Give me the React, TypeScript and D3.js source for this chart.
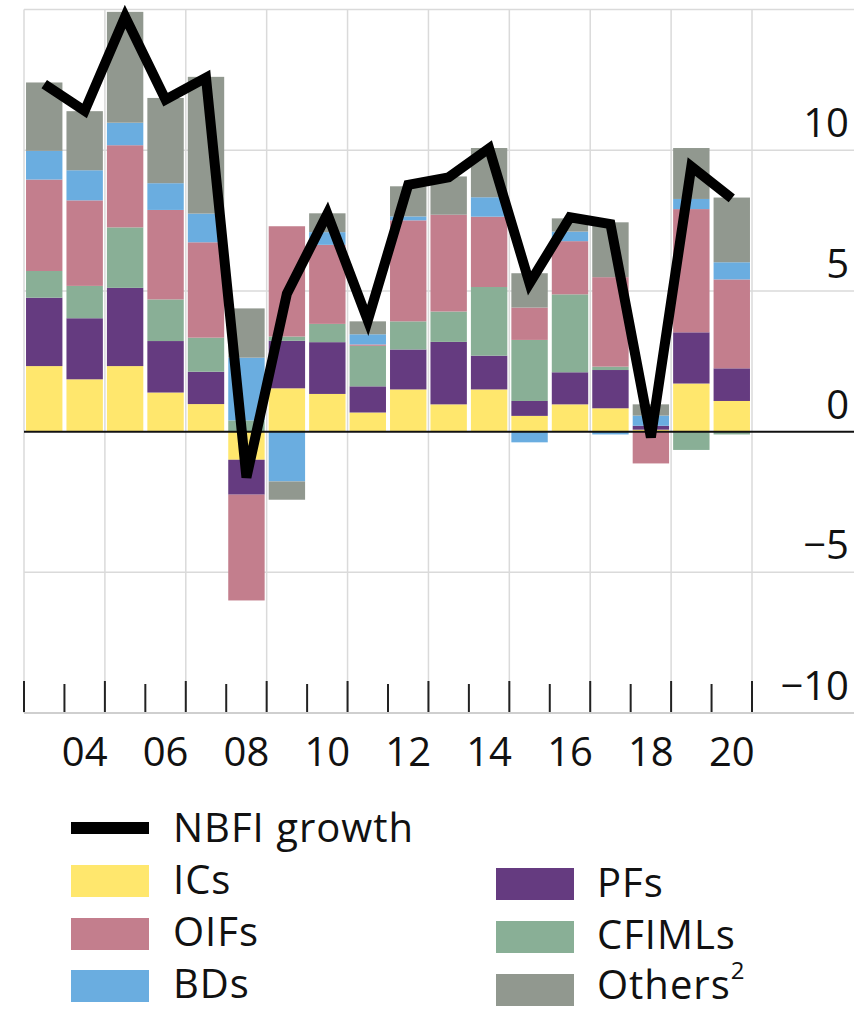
import React, { useEffect, useRef } from 'react';
import * as d3 from 'd3';

const years = ['2003', '2004', '2005', '2006', '2007', '2008', '2009', '2010', '2011', '2012', '2013', '2014', '2015', '2016', '2017', '2018', '2019', '2020'];

// contributions by sector, percentage points
const ICs = [2.33, 1.86, 2.33, 1.39, 0.98, -1.0, 1.54, 1.34, 0.68, 1.5, 0.97, 1.5, 0.56, 0.97, 0.83, 0.07, 1.71, 1.09];
const PFs = [2.43, 2.17, 2.78, 1.83, 1.15, -1.24, 1.69, 1.84, 0.93, 1.42, 2.22, 1.2, 0.53, 1.14, 1.36, 0.14, 1.82, 1.16];
const CFIMLs = [0.95, 1.15, 2.15, 1.48, 1.21, 0.4, 0.15, 0.65, 1.44, 1.0, 1.08, 2.44, 2.17, 2.77, 0.12, 0, -0.65, -0.1];
const OIFs = [3.25, 3.04, 2.92, 3.18, 3.39, -3.76, 3.92, 2.81, 0.05, 3.59, 3.44, 2.5, 1.15, 1.89, 3.18, -1.13, 4.38, 3.16];
const BDs = [1.02, 1.07, 0.8, 0.95, 1.02, 2.23, -1.77, 0.45, 0.36, 0.14, 0, 0.69, -0.38, 0.34, -0.1, 0.36, 0.36, 0.61];
const Others = [2.43, 2.1, 3.94, 3.03, 4.86, 1.75, -0.65, 0.67, 0.46, 1.07, 1.36, 1.75, 1.22, 0.47, 1.95, 0.4, 1.81, 2.3];
const NBFI = [12.35, 11.4, 14.75, 11.8, 12.58, -1.63, 4.9, 7.74, 3.95, 8.77, 9.04, 10.07, 5.27, 7.62, 7.38, -0.2, 9.42, 8.29];

const yTicks = [-10, -5, 0, 5, 10];
const xLabelYears = ['2004', '2006', '2008', '2010', '2012', '2014', '2016', '2018', '2020'];

const seriesKeys = ['ICs', 'PFs', 'CFIMLs', 'OIFs', 'BDs', 'Others'];
const seriesColors: Record<string, string> = {
    ICs: '#ffe76d',
    PFs: '#653b80',
    CFIMLs: '#89af96',
    OIFs: '#c37e8d',
    BDs: '#6aade0',
    Others: '#91988f',
};

const FONT = '"Open Sans", "Noto Sans", sans-serif';

const App = () => {
    const svgRef = useRef<SVGSVGElement>(null);

    useEffect(() => {
        const svg = d3.select(svgRef.current);
        svg.selectAll('*').remove();

        const width = 854;
        const left = 24, right = 752, top = 9.6, bottom = 713;

        const x = d3.scaleBand<string>()
            .domain(years)
            .range([left, right])
            .paddingInner(0.1)
            .paddingOuter(0.05);
        const step = x.step();

        const y = d3.scaleLinear().domain([-10, 15]).range([bottom, top]);

        // table for stacking
        const cols: Record<string, number[]> = { ICs, PFs, CFIMLs, OIFs, BDs, Others };
        const table = years.map((yr, i) => {
            const row: any = { year: yr };
            seriesKeys.forEach(k => { row[k] = cols[k][i]; });
            return row;
        });
        const stacked = d3.stack<any>()
            .keys(seriesKeys)
            .offset(d3.stackOffsetDiverging)(table);

        // grid
        const grid = svg.append('g');
        [15, 10, 5, -5].forEach(v => {
            grid.append('line')
                .attr('x1', left).attr('x2', width)
                .attr('y1', y(v)).attr('y2', y(v))
                .attr('stroke', '#dadada').attr('stroke-width', 1.5);
        });
        d3.range(0, years.length + 1, 2).forEach(k => {
            const gx = left + k * step;
            grid.append('line')
                .attr('x1', gx).attr('x2', gx)
                .attr('y1', top).attr('y2', bottom)
                .attr('stroke', '#dadada').attr('stroke-width', 1.5);
        });
        grid.append('line')
            .attr('x1', left).attr('x2', width)
            .attr('y1', bottom).attr('y2', bottom)
            .attr('stroke', '#cfcfcf').attr('stroke-width', 2);

        // bars
        svg.append('g')
            .selectAll('g')
            .data(stacked)
            .join('g')
            .attr('fill', d => seriesColors[d.key])
            .selectAll('rect')
            .data(d => d)
            .join('rect')
            .attr('x', d => x(d.data.year)!)
            .attr('width', x.bandwidth())
            .attr('y', d => y(Math.max(d[0], d[1])))
            .attr('height', d => Math.abs(y(d[0]) - y(d[1])));

        // zero line
        svg.append('line')
            .attr('x1', left).attr('x2', width)
            .attr('y1', y(0)).attr('y2', y(0))
            .attr('stroke', '#111').attr('stroke-width', 2);

        // bottom ticks
        d3.range(0, years.length + 1).forEach(k => {
            const tx = left + k * step;
            svg.append('line')
                .attr('x1', tx).attr('x2', tx)
                .attr('y1', k % 2 === 0 ? 681 : 684).attr('y2', bottom - 1)
                .attr('stroke', '#222').attr('stroke-width', 2);
        });

        // y labels
        svg.append('g')
            .selectAll('text')
            .data(yTicks)
            .join('text')
            .attr('x', 849)
            .attr('y', d => y(d) - 13)
            .attr('text-anchor', 'end')
            .attr('font-family', FONT)
            .attr('font-size', 40)
            .attr('fill', '#111')
            .text(d => (d < 0 ? '\u2212' + Math.abs(d) : String(d)));

        // x labels
        svg.append('g')
            .selectAll('text')
            .data(xLabelYears)
            .join('text')
            .attr('x', d => x(d)! + x.bandwidth() / 2)
            .attr('y', 766)
            .attr('text-anchor', 'middle')
            .attr('font-family', FONT)
            .attr('font-size', 40)
            .attr('fill', '#111')
            .text(d => d.slice(2));

        // NBFI growth line
        const line = d3.line<number>()
            .x((d, i) => x(years[i])! + x.bandwidth() / 2)
            .y(d => y(d));
        svg.append('path')
            .datum(NBFI)
            .attr('d', line)
            .attr('fill', 'none')
            .attr('stroke', '#000')
            .attr('stroke-width', 10);

        // legend
        const lg = svg.append('g')
            .attr('font-family', FONT)
            .attr('font-size', 40)
            .attr('letter-spacing', 1)
            .attr('fill', '#111');
        lg.append('rect').attr('x', 71).attr('y', 822).attr('width', 78).attr('height', 12).attr('fill', '#000');
        lg.append('text').attr('x', 173).attr('y', 842).text('NBFI growth');

        const legendItems = [
            { key: 'ICs', label: 'ICs', sx: 71, sy: 865, tx: 173, ty: 894 },
            { key: 'OIFs', label: 'OIFs', sx: 71, sy: 918, tx: 173, ty: 946 },
            { key: 'BDs', label: 'BDs', sx: 71, sy: 970, tx: 173, ty: 998 },
            { key: 'PFs', label: 'PFs', sx: 496, sy: 868, tx: 597, ty: 897 },
            { key: 'CFIMLs', label: 'CFIMLs', sx: 496, sy: 921, tx: 597, ty: 949 },
            { key: 'Others', label: 'Others', sx: 496, sy: 974, tx: 597, ty: 999 },
        ];
        legendItems.forEach(it => {
            lg.append('rect')
                .attr('x', it.sx).attr('y', it.sy)
                .attr('width', 78).attr('height', 32)
                .attr('fill', seriesColors[it.key]);
            const t = lg.append('text').attr('x', it.tx).attr('y', it.ty).text(it.label);
            if (it.key === 'Others') {
                t.append('tspan').attr('dy', -20).attr('font-size', 24).text('2');
            }
        });
    }, []);

    return (
        <svg
            ref={svgRef}
            width={854}
            height={1010}
            style={{ position: 'absolute', left: 0, top: 0, background: '#fff' }}
        />
    );
};

export default App;
